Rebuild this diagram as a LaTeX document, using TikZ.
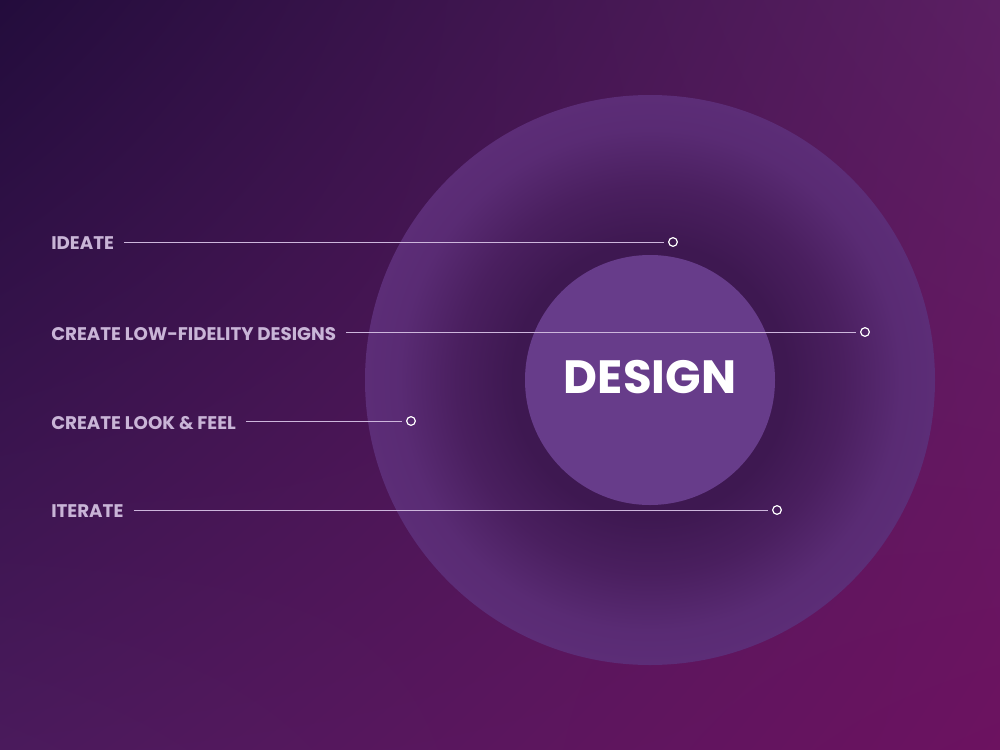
\documentclass[tikz,border=0pt]{standalone}
\usepackage{fontspec}
\setmainfont{Poppins}
\usetikzlibrary{positioning,shadings}

\definecolor{bgtl}{HTML}{230C3C}
\definecolor{bgtr}{HTML}{5C1F63}
\definecolor{bgbl}{HTML}{4A1A5C}
\definecolor{bgbr}{HTML}{6C1260}
\definecolor{ringdark}{HTML}{3E1851}
\definecolor{ringmid}{HTML}{4A1F5F}
\definecolor{ringlight}{HTML}{5C2D77}
\definecolor{corefill}{HTML}{673C8A}
\definecolor{labeltext}{HTML}{C9B5D7}
\definecolor{linkline}{HTML}{CDB6DC}

% bordo del cerchio a 25bp
\pgfdeclareradialshading{ringshade}{\pgfpoint{0bp}{0bp}}{%
  color(0bp)=(ringdark); color(12bp)=(ringdark); color(17bp)=(ringmid);
  color(22bp)=(ringlight!85!ringmid); color(25bp)=(ringlight); color(50bp)=(ringlight)}

\tikzset{
  lbl/.style={anchor=west, inner sep=0pt, text depth=0pt, text=labeltext,
    font=\bfseries\fontsize{13.7}{16}\selectfont},
  dot/.style={circle, draw=white, line width=0.9pt, minimum size=6.5pt, inner sep=0pt},
  link/.style={draw=linkline, line width=0.75pt, shorten <=7.5pt, shorten >=3pt}
}

\begin{document}
\begin{tikzpicture}[x=0.75pt, y=-0.75pt]

	\useasboundingbox (0,0) rectangle (1000,750);

	% fondo sfumato
	\shade[upper left=bgtl, upper right=bgtr, lower left=bgbl, lower right=bgbr]
		(0,0) rectangle (1000,750);

	% anello esterno e cerchio centrale
	\shade[shading=ringshade] (650,380) circle (285);
	\fill[corefill] (650,380) circle (125);
	\node[text=white, font=\bfseries\fontsize{35}{40}\selectfont, inner sep=0pt] (core) at (650,377) {DESIGN};

	% etichette, linee e punti
	\foreach \n/\ty/\dx/\txt in {1/242/673/IDEATE, 2/332/865/CREATE LOW-FIDELITY DESIGNS,
		3/421/411/CREATE LOOK \& FEEL, 4/510/777/ITERATE} {
		\node[lbl] (l\n) at (51,\ty+1.5) {\txt};
		\node[dot] (d\n) at (\dx,\ty) {};
		\draw[link] (l\n.east |- d\n.west) -- (d\n.west);
	}

\end{tikzpicture}
\end{document}
